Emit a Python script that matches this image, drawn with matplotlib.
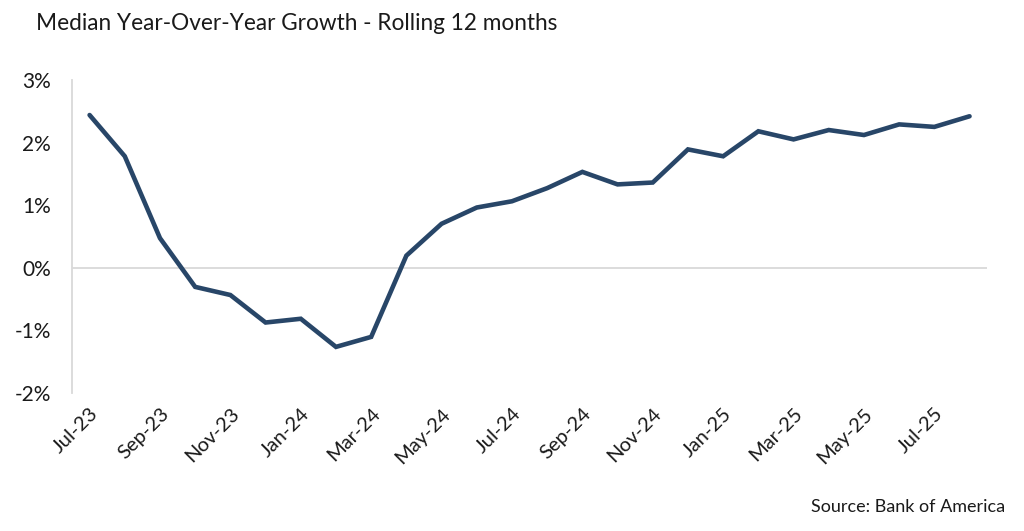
import matplotlib
matplotlib.use("Agg")
import matplotlib.pyplot as plt
from matplotlib.ticker import FuncFormatter

# monthly readings, Jul-23 .. Aug-25 (percent)
months = ["Jul-23", "Aug-23", "Sep-23", "Oct-23", "Nov-23", "Dec-23",
          "Jan-24", "Feb-24", "Mar-24", "Apr-24", "May-24", "Jun-24",
          "Jul-24", "Aug-24", "Sep-24", "Oct-24", "Nov-24", "Dec-24",
          "Jan-25", "Feb-25", "Mar-25", "Apr-25", "May-25", "Jun-25",
          "Jul-25", "Aug-25"]
growth = [2.44, 1.78, 0.47, -0.31, -0.44, -0.88, -0.82, -1.27, -1.11, 0.19,
          0.70, 0.96, 1.06, 1.27, 1.53, 1.33, 1.36, 1.89, 1.78, 2.18,
          2.05, 2.20, 2.12, 2.29, 2.25, 2.42]
y_ticks = [-2, -1, 0, 1, 2, 3]

LINE = "#284668"
AXIS = "#D9D9D9"
INK = "#1a1a1a"
FONT = ["Lato", "DejaVu Sans"]

plt.rcParams["font.family"] = FONT

fig = plt.figure(figsize=(10.24, 5.31), dpi=100)
ax = fig.add_axes([0.0703, 0.2608, 0.8937, 0.5885])

xs = list(range(len(months)))
ax.plot(xs, growth, color=LINE, linewidth=3.3, solid_capstyle="round",
        solid_joinstyle="miter", zorder=3)
ax.axhline(0, color=AXIS, linewidth=1.3, zorder=1)

ax.set_xlim(-0.5, len(months) - 0.5)
ax.set_ylim(-2, 3)
ax.set_yticks(y_ticks)
ax.yaxis.set_major_formatter(FuncFormatter(lambda v, _: f"{v:.0f}%"))
ax.set_xticks(xs[::2])
ax.set_xticklabels(months[::2], rotation=45, ha="right", va="top",
                   rotation_mode="anchor")
ax.tick_params(axis="x", length=0, labelsize=14.5, colors=INK, pad=9)
ax.tick_params(axis="y", length=0, labelsize=15, colors=INK, pad=15)
for lab in ax.get_xticklabels():
    lab.set_x(lab.get_position()[0])

for s in ["top", "right", "bottom"]:
    ax.spines[s].set_visible(False)
ax.spines["left"].set_color(AXIS)
ax.spines["left"].set_linewidth(1.3)

fig.text(0.035, 0.955, "Median Year-Over-Year Growth - Rolling 12 months",
         fontsize=16.3, color=INK, ha="left", va="center")
fig.text(0.982, 0.045, "Source: Bank of America", fontsize=13, color=INK,
         ha="right", va="center")

fig.savefig("out.png", dpi=100, facecolor="white")
